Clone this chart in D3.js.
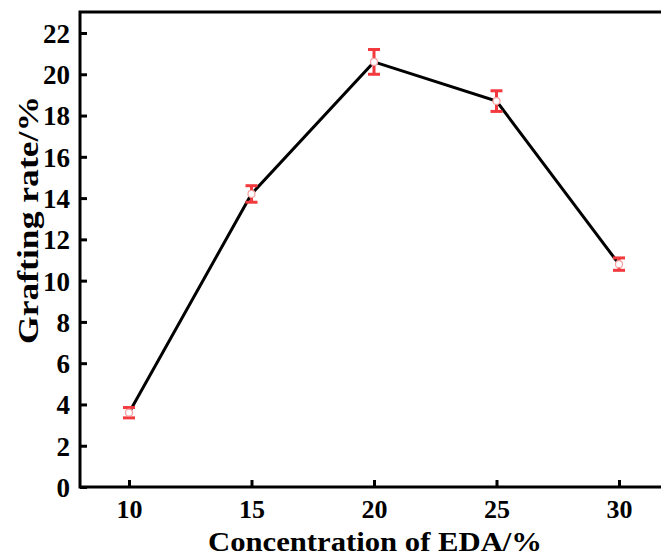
<!DOCTYPE html>
<html><head><meta charset="utf-8">
<script src="https://cdn.jsdelivr.net/npm/d3@7"></script>
<style>body{margin:0;background:#fff}svg{display:block}
svg text{font-family:"Liberation Serif","Times New Roman",Times,serif;font-weight:bold;fill:#000}</style>
</head><body>
<svg id="c" width="661" height="556"></svg>
<script>
const categories = [10, 15, 20, 25, 30];
const values = [3.6, 14.2, 20.6, 18.7, 10.8];
const errors = [0.25, 0.4, 0.6, 0.5, 0.3];
const yTicks = [0, 2, 4, 6, 8, 10, 12, 14, 16, 18, 20, 22];

const svg = d3.select("#c");
const L = 80, T = 12, B = 487, R = 700;
const x = d3.scaleLinear().domain([10, 30]).range([129, 619]);
const y = d3.scaleLinear().domain([0, 22]).range([B, 33]);

svg.append("rect").attr("x", L).attr("y", T).attr("width", R - L).attr("height", B - T)
  .attr("fill", "none").attr("stroke", "#000").attr("stroke-width", 3);

const xAxis = svg.append("g").attr("transform", `translate(0,${B})`)
  .call(d3.axisBottom(x).tickValues(categories).tickSize(-7).tickPadding(13).tickFormat(d3.format("d")));
const yAxis = svg.append("g").attr("transform", `translate(${L},0)`)
  .call(d3.axisLeft(y).tickValues(yTicks).tickSize(-7).tickPadding(10).tickFormat(d3.format("d")));
[xAxis, yAxis].forEach(g => {
  g.attr("font-family", null).attr("font-size", null);
  g.select(".domain").remove();
  g.selectAll(".tick line").attr("stroke", "#000").attr("stroke-width", 3);
  g.selectAll(".tick text").attr("fill", "#000").style("font-size", "26px");
});
yAxis.selectAll(".tick text").attr("dy", "0.35em").style("font-size", "27px");

svg.append("path").datum(categories.map((c, i) => [c, values[i]]))
  .attr("fill", "none").attr("stroke", "#000").attr("stroke-width", 3)
  .attr("d", d3.line().x(d => x(d[0])).y(d => y(d[1])));

const red = "#f2393d";
const eg = svg.append("g");
categories.forEach((c, i) => {
  const cx = x(c), lo = y(values[i] - errors[i]), hi = y(values[i] + errors[i]);
  eg.append("line").attr("x1", cx).attr("x2", cx).attr("y1", lo).attr("y2", hi)
    .attr("stroke", red).attr("stroke-width", 3);
  [lo, hi].forEach(yy => eg.append("line").attr("x1", cx - 6).attr("x2", cx + 6)
    .attr("y1", yy).attr("y2", yy).attr("stroke", red).attr("stroke-width", 3));
  eg.append("circle").attr("cx", cx).attr("cy", y(values[i])).attr("r", 3.5)
    .attr("fill", "#fff").attr("stroke", "#f7a0a0").attr("stroke-width", 1.2);
});

svg.append("text").attr("x", 375).attr("y", 551).attr("text-anchor", "middle")
  .attr("textLength", 334).attr("lengthAdjust", "spacingAndGlyphs")
  .style("font-size", "28px").text("Concentration of EDA/%");
svg.append("text").attr("transform", "translate(38,220) rotate(-90)").attr("text-anchor", "middle")
  .attr("textLength", 248).attr("lengthAdjust", "spacingAndGlyphs")
  .style("font-size", "30px").text("Grafting rate/%");
</script>
</body></html>
